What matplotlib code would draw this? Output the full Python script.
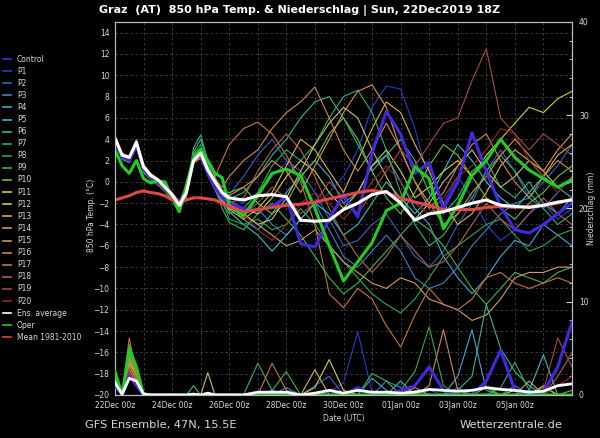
import matplotlib.pyplot as plt
from matplotlib.lines import Line2D
from matplotlib.ticker import MultipleLocator

# time axis: days after 22Dec 00z (6-hourly first 4 days, then 12-hourly)
days = [0, 0.25, 0.5, 0.75, 1, 1.25, 1.5, 1.75, 2, 2.25, 2.5, 2.75, 3, 3.25, 3.5, 3.75, 4,
        4.5, 5, 5.5, 6, 6.5, 7, 7.5, 8, 8.5, 9, 9.5, 10, 10.5, 11, 11.5, 12, 12.5, 13, 13.5, 14,
        14.5, 15, 15.5, 16]
date_ticks = [0, 2, 4, 6, 8, 10, 12, 14]
date_labels = ['22Dec 00z', '24Dec 00z', '26Dec 00z', '28Dec 00z', '30Dec 00z',
               '01Jan 00z', '03Jan 00z', '05Jan 00z']

# 850 hPa temperature (°C)
t_ctrl = [4.0, 2.3, 2.0, 3.5, 1.2, 0.4, 0.0, -0.6, -1.3, -2.0, -0.8, 2.3, 2.5, 0.8, -0.5, -1.5, -2.0,
          -2.5, -2.7, -2.3, -1.4, -5.8, -6.1, -3.5, -1.2, -3.3, 2.7, 6.6, 4.5, 0.8, 1.8, -2.5, 0.0,
          4.6, 1.0, -2.3, -4.5, -4.8, -4.0, -3.0, -2.0]
t_p1 = [4.2, 2.6, 2.2, 3.8, 1.4, 0.6, 0.1, -0.5, -1.1, -2.0, -0.6, 2.4, 2.8, 1.5, 0.3, -0.8, -1.5,
        -2.0, -1.0, 0.5, 1.8, 0.5, -2.5, -1.0, 0.5, 3.0, 7.0, 9.0, 8.7, 5.0, 0.0, -2.0, 0.5,
        -1.5, -4.0, -5.5, -4.5, -3.0, -2.0, -3.5, -2.5]
t_p2 = [3.9, 2.3, 2.0, 3.5, 1.1, 0.4, -0.1, -0.7, -1.4, -2.2, -1.0, 2.0, 2.5, 0.9, -0.3, -1.0, -1.2,
        0.5, 2.5, 4.0, 2.0, 1.0, -1.0, -3.5, -6.0, -5.5, -4.0, -3.0, -5.0, -7.0, -8.0, -6.5, -4.0,
        -2.0, 1.0, 3.0, 1.0, -1.5, 0.0, 1.5, 3.5]
t_p3 = [4.1, 2.5, 2.3, 3.7, 1.5, 0.7, 0.2, -0.4, -1.2, -2.0, -1.2, 1.8, 2.3, 0.6, -0.8, -2.0, -2.5,
        -3.0, -2.5, -4.0, -5.0, -3.5, -2.0, -4.5, -7.0, -8.0, -6.5, -5.0, -6.5, -9.0, -10.0, -9.5, -8.0,
        -6.0, -4.5, -3.0, -2.0, -1.5, -2.5, -1.0, 0.5]
t_p4 = [4.0, 2.4, 2.1, 3.6, 1.2, 0.5, 0.0, -0.6, -1.3, -2.1, -0.7, 2.3, 2.7, 1.2, 0.2, -1.0, -2.2,
        -3.5, -4.5, -3.0, -1.0, 0.5, 2.0, 0.5, -2.0, -1.0, 1.5, 2.5, 0.0, -2.5, -4.0, -7.0, -9.0,
        -10.5, -9.0, -7.0, -5.5, -6.0, -4.0, -5.0, -6.0]
t_p5 = [3.8, 2.2, 1.9, 3.4, 1.0, 0.3, -0.2, -0.8, -1.5, -2.3, -1.1, 2.1, 2.4, 0.8, -0.5, -1.5, -2.8,
        -4.0, -5.0, -6.5, -5.0, -3.5, -2.0, -3.0, -5.0, -4.0, -2.0, 0.0, -1.5, -3.0, -1.5, 1.0, 3.5,
        2.0, 0.0, -1.5, -2.5, -1.0, 0.5, -0.5, -1.5]
t_p6 = [4.0, 2.4, 2.2, 3.5, 1.2, 0.5, 0.0, -0.7, -1.4, -2.3, -1.0, 3.2, 4.4, 2.0, 0.5, -1.0, -1.6,
        -1.0, 0.5, 2.5, 4.0, 6.0, 7.5, 8.0, 6.0, 3.5, 1.0, 2.5, 4.0, 2.0, -1.0, -3.0, -1.5,
        1.0, 2.0, -0.5, -1.5, 0.0, -2.0, -3.0, -1.5]
t_p7 = [3.9, 2.3, 2.0, 3.4, 1.0, 0.3, -0.1, -0.7, -1.5, -2.4, -1.2, 2.8, 4.0, 1.8, 0.0, -2.0, -3.0,
        -2.5, -1.0, 1.5, 3.0, 2.0, 3.5, 6.0, 8.0, 8.6, 6.5, 3.0, -1.0, -4.0, -6.0, -5.0, -3.0,
        -1.5, 1.0, 2.5, 1.0, -1.0, -2.5, -4.0, -3.0]
t_p8 = [3.7, 2.1, 1.8, 3.2, 0.9, 0.2, -0.3, -0.9, -1.7, -2.5, -1.3, 2.6, 3.5, 1.5, -0.2, -1.8, -3.5,
        -4.0, -3.5, -4.5, -4.0, -2.5, -4.0, -6.0, -7.5, -9.0, -10.5, -11.5, -12.3, -11.0, -9.0, -7.0, -6.0,
        -5.0, -4.0, -3.5, -5.0, -6.5, -6.0, -5.0, -4.5]
t_p9 = [3.8, 2.2, 1.9, 3.3, 1.0, 0.3, -0.2, -0.8, -1.5, -2.6, -1.5, 2.5, 3.2, 1.2, -0.5, -2.5, -3.8,
        -4.5, -3.0, -2.0, -3.5, -5.0, -7.0, -9.0, -10.5, -9.5, -8.0, -6.5, -5.0, -3.5, -4.5, -6.0, -8.0,
        -10.0, -11.5, -10.0, -8.5, -9.0, -9.5, -8.5, -8.0]
t_p10 = [4.0, 2.4, 2.1, 3.6, 1.3, 0.5, 0.0, -0.6, -1.3, -2.1, -0.8, 2.4, 3.0, 1.3, 0.2, -0.8, -1.0,
         -0.5, -2.0, -3.0, -2.0, 0.5, 2.0, 4.5, 6.0, 4.0, 1.0, -1.5, -3.0, -1.0, 1.5, 3.5, 2.5,
         0.5, -1.5, -2.5, -3.5, -2.0, -1.0, 0.5, 1.5]
t_p11 = [4.1, 2.5, 2.2, 3.7, 1.4, 0.6, 0.1, -0.5, -1.2, -2.0, -0.9, 2.2, 2.6, 1.0, 0.0, -1.0, -1.8,
         -2.5, -3.0, -1.5, 0.5, 2.0, 1.0, -1.0, -2.5, -1.0, 1.5, 3.0, 1.0, -1.5, -0.5, 1.0, 2.0,
         0.5, 2.5, 4.0, 5.5, 7.0, 6.5, 7.8, 8.5]
t_p12 = [4.2, 2.6, 2.3, 3.9, 1.6, 0.8, 0.3, -0.4, -1.1, -1.8, -0.5, 2.0, 2.3, 0.8, -0.3, -1.3, -2.0,
         -3.0, -4.0, -3.5, -1.5, 1.0, 3.5, 5.5, 7.0, 6.0, 3.0, 0.5, -2.0, -3.5, -2.0, 0.0, 1.5,
         3.0, 1.0, -0.5, 0.5, 2.0, 1.0, -0.5, 0.0]
t_p13 = [4.0, 2.4, 2.1, 3.6, 1.3, 0.5, 0.0, -0.6, -1.3, -2.1, -1.0, 2.1, 2.5, 0.9, -0.4, -1.6, -2.6,
         -3.5, -2.5, -1.0, 1.5, 4.0, 3.0, 1.0, -1.0, 2.0, 5.0, 7.5, 6.5, 3.5, 1.0, -2.0, -4.0,
         -3.0, -1.0, 1.5, 3.0, 2.0, 0.5, 2.5, 3.5]
t_p14 = [3.9, 2.3, 2.0, 3.5, 1.2, 0.4, -0.1, -0.7, -1.4, -2.2, -1.2, 1.9, 2.3, 0.7, -0.6, -1.8, -2.5,
         -3.0, -4.0, -5.0, -6.0, -5.5, -4.5, -6.0, -7.5, -8.5, -9.5, -10.0, -9.0, -9.5, -11.0, -11.5, -12.0,
         -13.0, -12.5, -11.0, -9.0, -8.5, -8.5, -8.0, -8.0]
t_p15 = [4.0, 2.4, 2.1, 3.6, 1.3, 0.5, 0.0, -0.6, -1.3, -2.1, -0.9, 2.3, 2.8, 1.1, -0.1, -1.1, -1.3,
         -0.5, 0.5, 2.0, 1.0, -1.0, 1.5, 4.0, 6.5, 8.5, 9.1, 7.0, 3.0, 0.0, -2.0, -4.0, -3.0,
         -1.0, 0.5, 2.5, 4.0, 2.5, 1.0, 3.0, 4.5]
t_p16 = [4.1, 2.5, 2.2, 3.7, 1.4, 0.6, 0.1, -0.5, -1.2, -2.0, -0.8, 2.4, 3.0, 1.3, 0.3, -0.5, 0.5,
         2.0, 3.0, 5.0, 6.5, 7.5, 8.9, 6.0, 3.0, 1.0, 3.0, 5.5, 3.0, 0.0, -2.5, -1.0, 1.5,
         3.5, 4.5, 2.0, 0.0, -1.5, 0.5, 2.0, 1.0]
t_p17 = [4.3, 2.7, 2.4, 4.0, 1.6, 0.8, 0.2, -0.4, -1.0, -1.9, -0.7, 1.8, 2.2, 0.7, 0.5, 2.0, 3.5,
         5.0, 5.6, 4.5, 2.5, 0.0, -4.0, -10.5, -11.8, -10.0, -11.0, -13.5, -15.5, -12.5, -10.0, -11.5, -12.0,
         -11.0, -9.0, -8.5, -9.5, -10.0, -9.5, -9.0, -9.5]
t_p18 = [4.0, 2.4, 2.1, 3.6, 1.3, 0.5, 0.0, -0.6, -1.3, -2.1, -1.0, 2.0, 2.4, 0.8, -0.4, -1.4, -2.0,
         -1.5, 1.0, 3.0, 4.5, 3.0, 0.5, -2.5, -5.0, -7.0, -8.5, -7.0, -5.0, -6.5, -8.0, -7.5, -6.0,
         -4.0, -2.0, -3.5, -4.5, -3.0, -1.5, -3.0, -4.0]
t_p19 = [4.0, 2.4, 2.1, 3.6, 1.3, 0.5, 0.0, -0.6, -1.3, -2.1, -0.9, 2.1, 2.5, 0.9, -0.3, -1.3, -2.2,
         -3.0, -2.0, -0.5, -1.5, -3.0, -2.0, 0.0, -1.5, -3.0, -1.0, 1.0, 3.0, 1.5, 3.5, 5.5, 6.0,
         9.5, 12.5, 6.0, 4.5, 3.0, 4.5, 3.5, 2.5]
t_p20 = [3.9, 2.3, 2.0, 3.5, 1.1, 0.3, -0.2, -0.8, -1.5, -2.3, -1.1, 2.0, 2.4, 0.8, -0.5, -1.5, -2.3,
         -3.0, -4.5, -5.5, -4.0, -2.0, -1.0, -2.0, -3.5, -2.0, 0.0, 1.5, 0.0, -2.0, -3.0, -1.5, 0.5,
         1.5, 3.0, 5.0, 4.5, 2.0, 0.5, -1.0, 0.5]
t_mean = [4.1, 2.5, 2.3, 3.7, 1.4, 0.6, 0.2, -0.5, -1.2, -2.2, -1.0, 2.0, 2.7, 1.1, 0.0, -1.0, -1.5,
          -1.7, -1.3, -1.2, -1.4, -3.6, -3.7, -3.6, -2.6, -2.0, -1.2, -0.9, -2.0, -3.6, -3.0, -2.8, -2.4,
          -2.0, -1.7, -2.2, -2.3, -2.4, -2.2, -1.9, -1.7]
t_oper = [3.0, 1.5, 0.8, 2.0, 0.3, -0.1, 0.1, 0.0, -1.5, -2.8, -0.3, 2.2, 3.0, 2.0, 0.8, 0.4, -2.2,
          -3.2, -1.3, 0.8, 1.2, 0.6, -2.5, -6.0, -9.3, -7.5, -5.7, -2.7, -2.0, 1.4, 0.3, -4.4, -2.2,
          0.6, 2.0, 4.0, 2.3, 1.1, 0.3, -0.5, 0.2]
t_clim = [-1.7, -1.5, -1.3, -1.0, -0.85, -1.0, -1.1, -1.3, -1.7, -1.9, -1.7, -1.5, -1.5, -1.6, -1.7, -2.0, -2.3,
          -2.8, -2.6, -2.4, -2.2, -2.1, -1.9, -1.6, -1.3, -1.0, -0.8, -1.0, -1.5, -1.9, -2.2, -2.6, -2.6,
          -2.6, -2.4, -2.3, -2.4, -2.3, -2.2, -2.0, -1.6]

# precipitation (mm)
pc_ctrl = [1.0, 0, 2.0, 1.0, 0, 0, 0, 0, 0, 0, 0, 0, 0, 0, 0, 0, 0, 0, 0.3, 0,
           0, 0, 0, 0.5, 0, 0.8, 0, 0, 0.5, 1.0, 3.0, 0.5, 0, 0, 1.5, 4.8, 0.5, 0, 0.3, 3.0, 7.8]
pc_p1 = [1.2, 0, 2.2, 1.2, 0, 0, 0, 0, 0, 0, 0, 0, 0, 0, 0, 0, 0, 0, 0, 0.5,
         0, 0, 0, 0.3, 1.3, 6.8, 0.3, 0, 0, 0, 0.5, 0, 0, 0, 0, 0, 0, 0, 0, 0, 0]
pc_p2 = [1.3, 0, 2.4, 1.0, 0, 0, 0, 0, 0, 0, 0, 0, 0, 0, 0, 0, 0, 0, 0, 0,
         0, 0, 1.0, 2.0, 0, 0, 0, 0, 0, 0.5, 0, 0, 0.8, 0, 0, 0, 0, 0, 0, 0, 0]
pc_p3 = [1.1, 0, 2.0, 1.3, 0, 0, 0, 0, 0, 0, 0, 0, 0, 0, 0, 0, 0, 0, 0, 0,
         0.8, 0, 0, 0, 0, 0, 0, 1.5, 0.8, 0, 0, 0, 0, 0, 0, 0, 1.0, 0, 0, 0, 0]
pc_p4 = [1.4, 0, 2.6, 1.2, 0, 0, 0, 0, 0, 0, 0, 0, 0, 0, 0, 0, 0, 0, 0, 0,
         0, 0, 0, 0, 0, 0, 1.8, 0.5, 0, 0, 0, 0, 2.0, 7.0, 0.5, 0, 0, 0, 0, 0, 0]
pc_p5 = [1.2, 0, 2.3, 1.4, 0, 0, 0, 0, 0, 0, 0, 0, 0, 0, 0, 0, 0, 0, 0, 0,
         0, 0, 0, 0, 0, 0, 0, 0, 1.5, 0, 0, 0, 0, 0, 0, 0, 0, 0.5, 4.3, 0, 0]
pc_p6 = [1.5, 0, 3.0, 1.5, 0, 0, 0, 0, 0, 0, 0, 1.0, 0, 0, 0, 0, 0, 0, 0, 0,
         0, 0, 0, 0, 0, 0, 0, 0, 0, 0, 0, 0, 0.5, 2.0, 9.7, 5.0, 2.5, 1.0, 0, 0, 0]
pc_p7 = [1.8, 0, 3.5, 2.0, 0, 0, 0, 0, 0, 0, 0, 0, 0, 0, 0, 0, 0, 0, 3.4, 0.5,
         0, 0, 0, 0, 0, 0, 0, 0, 0, 0, 0, 0, 0, 0, 0, 0.8, 3.5, 0.5, 0, 0, 0]
pc_p8 = [2.2, 0, 4.5, 2.5, 0.3, 0, 0, 0, 0, 0, 0, 0, 0, 0, 0, 0, 0, 0, 0, 0,
         0, 0, 0, 0, 0, 0, 0, 0, 0.5, 2.5, 7.3, 1.0, 0, 0, 0, 0, 0, 0, 0, 0, 0]
pc_p9 = [2.0, 0, 5.4, 3.0, 0, 0, 0, 0, 0, 0, 0, 0, 0, 0, 0, 0, 0, 0, 0, 0.5,
         2.5, 0, 0, 0, 0, 0, 2.3, 1.5, 0, 0, 0, 0, 0, 0, 0, 0, 0, 0, 0.8, 0, 0]
pc_p10 = [1.5, 0, 4.0, 2.0, 0, 0, 0, 0, 0, 0, 0, 0, 0, 0, 0, 0, 0, 0, 0, 0,
          0, 0, 0, 0.5, 0, 0, 0, 0, 0, 0, 0, 0, 0, 0, 0.8, 0, 0, 0, 0, 0, 0.5]
pc_p11 = [1.3, 0, 2.8, 1.5, 0, 0, 0, 0, 0, 0, 0, 0, 0, 0, 0, 0, 0, 0, 0, 0,
          0, 0, 0.8, 3.8, 0.5, 0, 0, 0, 0, 0, 0, 0, 0, 0, 0, 0, 0, 0, 0, 0, 0]
pc_p12 = [1.2, 0, 2.5, 1.8, 0, 0, 0, 0, 0, 0, 0, 0, 0, 2.4, 0, 0, 0, 0, 0, 0,
          0, 0, 0, 0, 0, 0, 0, 0, 0, 0, 0, 0, 0, 0, 0, 0, 0.5, 0, 0, 0, 0]
pc_p13 = [1.4, 0, 3.2, 1.6, 0, 0, 0, 0, 0, 0, 0, 0, 0, 0, 0, 0, 0, 0, 0, 0,
          0, 0, 2.7, 0, 0, 0, 0, 0, 0, 0, 0, 0, 0, 0, 0, 0, 0, 0, 1.0, 0, 0]
pc_p14 = [1.3, 0, 3.5, 2.0, 0, 0, 0, 0, 0, 0, 0, 0, 0, 0, 0, 0, 0, 0, 0, 0,
          0, 0, 0, 0, 0, 0, 0, 0, 0, 0, 0, 0, 0, 0, 0, 0, 0, 1.5, 0, 0, 0]
pc_p15 = [1.2, 0, 3.8, 2.2, 0, 0, 0, 0, 0, 0, 0, 0, 0, 0, 0, 0, 0, 0, 0, 0,
          0, 0, 0, 0, 0, 0, 0, 0, 0, 0.8, 0, 0, 0, 0, 0, 0, 0, 0, 0, 0, 0]
pc_p16 = [1.0, 0, 4.2, 2.4, 0, 0, 0, 0, 0, 0, 0, 0, 0, 0, 0, 0, 0, 0, 0, 0,
          0, 0, 0, 0, 0, 0, 0, 0, 0, 0, 1.0, 7.0, 0.5, 0, 0, 0, 0, 0, 0, 0, 0]
pc_p17 = [1.0, 0, 6.1, 2.0, 0, 0, 0, 0, 0, 0, 0, 0, 0, 0, 0, 0, 0, 0, 0, 3.4,
          0.5, 0, 0, 0, 0, 0, 0, 0, 0, 0, 0, 0, 0, 0, 0, 0, 0, 0, 0, 0, 0]
pc_p18 = [1.1, 0, 3.0, 1.8, 0, 0, 0, 0, 0, 0, 0, 0, 0, 0, 0, 0, 0, 0, 0, 0,
          0, 0, 0, 0, 0, 0, 0, 0, 0, 0, 0, 0, 0, 0, 0, 0, 0, 0, 0, 2.0, 4.5]
pc_p19 = [1.0, 0, 2.8, 1.5, 0, 0, 0, 0, 0, 0, 0, 0, 0, 0, 0, 0, 0, 0, 0, 0,
          0, 0, 0, 0, 0, 0, 0, 0, 0, 0, 0, 0, 0, 0, 0, 0, 0, 0, 0.5, 6.1, 3.0]
pc_p20 = [0.9, 0, 2.5, 1.2, 0, 0, 0, 0, 0, 0, 0, 0, 0, 0, 0, 0, 0, 0, 0, 0,
          0, 0, 0, 0, 0, 0, 0, 0, 0, 0, 0, 0, 0, 0, 0, 0, 0, 0, 0, 1.0, 2.0]
pc_oper = [2.5, 0, 5.0, 3.0, 0, 0, 0, 0, 0, 0, 0, 0, 0, 0, 0, 0, 0, 0, 0, 0,
           0, 0, 0, 0, 0, 0, 0, 0, 0, 0, 0, 0, 0, 0, 0, 0, 0, 0, 0, 0, 0]
pc_mean = [1.3, 0.1, 1.8, 1.5, 0.1, 0, 0, 0, 0, 0, 0, 0.1, 0, 0.2, 0, 0, 0, 0, 0.3, 0.3,
           0.3, 0, 0.2, 0.5, 0.2, 0.5, 0.3, 0.3, 0.2, 0.3, 0.6, 0.5, 0.4, 0.5, 0.8, 0.6, 0.5, 0.3, 0.4, 1.0, 1.2]

member_temps = [t_p1, t_p2, t_p3, t_p4, t_p5, t_p6, t_p7, t_p8, t_p9, t_p10,
                t_p11, t_p12, t_p13, t_p14, t_p15, t_p16, t_p17, t_p18, t_p19, t_p20]
member_precip = [pc_p1, pc_p2, pc_p3, pc_p4, pc_p5, pc_p6, pc_p7, pc_p8, pc_p9, pc_p10,
                 pc_p11, pc_p12, pc_p13, pc_p14, pc_p15, pc_p16, pc_p17, pc_p18, pc_p19, pc_p20]
member_names = ['P%d' % i for i in range(1, 21)]
member_colors = ['#2a3ad0', '#3262c0', '#3a82c4', '#42a6d6', '#2ec0c0', '#2eb894', '#2eb064',
                 '#30a84a', '#3cb83a', '#6cc032', '#d2d232', '#ccbe66', '#dab24a', '#cc9c62',
                 '#d8953f', '#cc8a4e', '#c47638', '#b26054', '#aa4a3c', '#8e2a2a']
ctrl_color = '#4428e0'
oper_color = '#22cc22'
mean_color = 'white'
clim_color = '#e04848'
txt = '#d8d8d8'

fig = plt.figure(figsize=(6, 4.38), dpi=100, facecolor='black')
ax = fig.add_axes([115/600, 1 - 395/438, (572 - 115)/600, (395 - 22)/438])
ax.set_facecolor('black')

for temps, c in zip(member_temps, member_colors):
    ax.plot(days, temps, color=c, lw=0.8, zorder=2)
ax.plot(days, t_ctrl, color=ctrl_color, lw=2.2, zorder=3)
ax.plot(days, t_oper, color=oper_color, lw=2.2, zorder=4)
ax.plot(days, t_clim, color=clim_color, lw=2.2, zorder=5)
ax.plot(days, t_mean, color=mean_color, lw=2.2, zorder=6)

ax.set_xlim(0, 16)
ax.set_ylim(-20, 15)
ax.set_xticks(date_ticks)
ax.set_xticklabels(date_labels)
ax.xaxis.set_minor_locator(MultipleLocator(1))
ax.set_yticks(range(-20, 15, 2))
ax.grid(True, which='both', color='#444444', linestyle=(0, (3, 3)), lw=0.6)
ax.tick_params(axis='both', which='both', length=0, colors=txt, labelsize=5.5, pad=4)

ax2 = ax.twinx()
for pc, c in zip(member_precip, member_colors):
    ax2.plot(days, pc, color=c, lw=0.8, zorder=2)
ax2.plot(days, pc_ctrl, color=ctrl_color, lw=2.2, zorder=3)
ax2.plot(days, pc_oper, color=oper_color, lw=2.2, zorder=4)
ax2.plot(days, pc_mean, color=mean_color, lw=2.0, zorder=5)
ax2.set_ylim(0, 40)
ax2.set_yticks([0, 10, 20, 30, 40])
ax2.yaxis.set_minor_locator(MultipleLocator(2))
ax2.tick_params(axis='y', which='major', direction='in', length=4, colors=txt, labelsize=5.5, pad=5)
ax2.tick_params(axis='y', which='minor', direction='in', length=2.5, color=txt)

for a in (ax, ax2):
    for sp in a.spines.values():
        sp.set_color('#bbbbbb')
        sp.set_linewidth(0.8)

# texts
fig.text(0.5, 1 - 10/438, 'Graz  (AT)  850 hPa Temp. & Niederschlag | Sun, 22Dec2019 18Z',
         ha='center', va='center', color='white', fontsize=8, fontweight='bold')
fig.text(92/600, 1 - 215/438, '850 hPa Temp. (°C)', rotation=90, ha='center', va='center',
         color=txt, fontsize=5.5)
fig.text(592/600, 1 - 208/438, 'Niederschlag (mm)', rotation=90, ha='center', va='center',
         color=txt, fontsize=5.5)
fig.text(344/600, 1 - 418/438, 'Date (UTC)', ha='center', va='center', color=txt, fontsize=5.5)
fig.text(85/600, 1 - 425/438, 'GFS Ensemble, 47N, 15.5E', ha='left', va='center',
         color=txt, fontsize=8.2)
fig.text(563/600, 1 - 425/438, 'Wetterzentrale.de', ha='right', va='center',
         color=txt, fontsize=8.2)

# legend, drawn by hand
leg_names = ['Control'] + member_names + ['Ens. average', 'Oper', 'Mean 1981-2010']
leg_colors = [ctrl_color] + member_colors + [mean_color, oper_color, clim_color]
for i, (name, c) in enumerate(zip(leg_names, leg_colors)):
    y = 1 - (59 + i * 12.1) / 438
    fig.add_artist(Line2D([3/600, 11/600], [y, y], color=c, lw=1.2, transform=fig.transFigure))
    fig.text(17/600, y, name, ha='left', va='center', color=txt, fontsize=5.5)

fig.savefig('out.png', dpi=100, facecolor='black')
